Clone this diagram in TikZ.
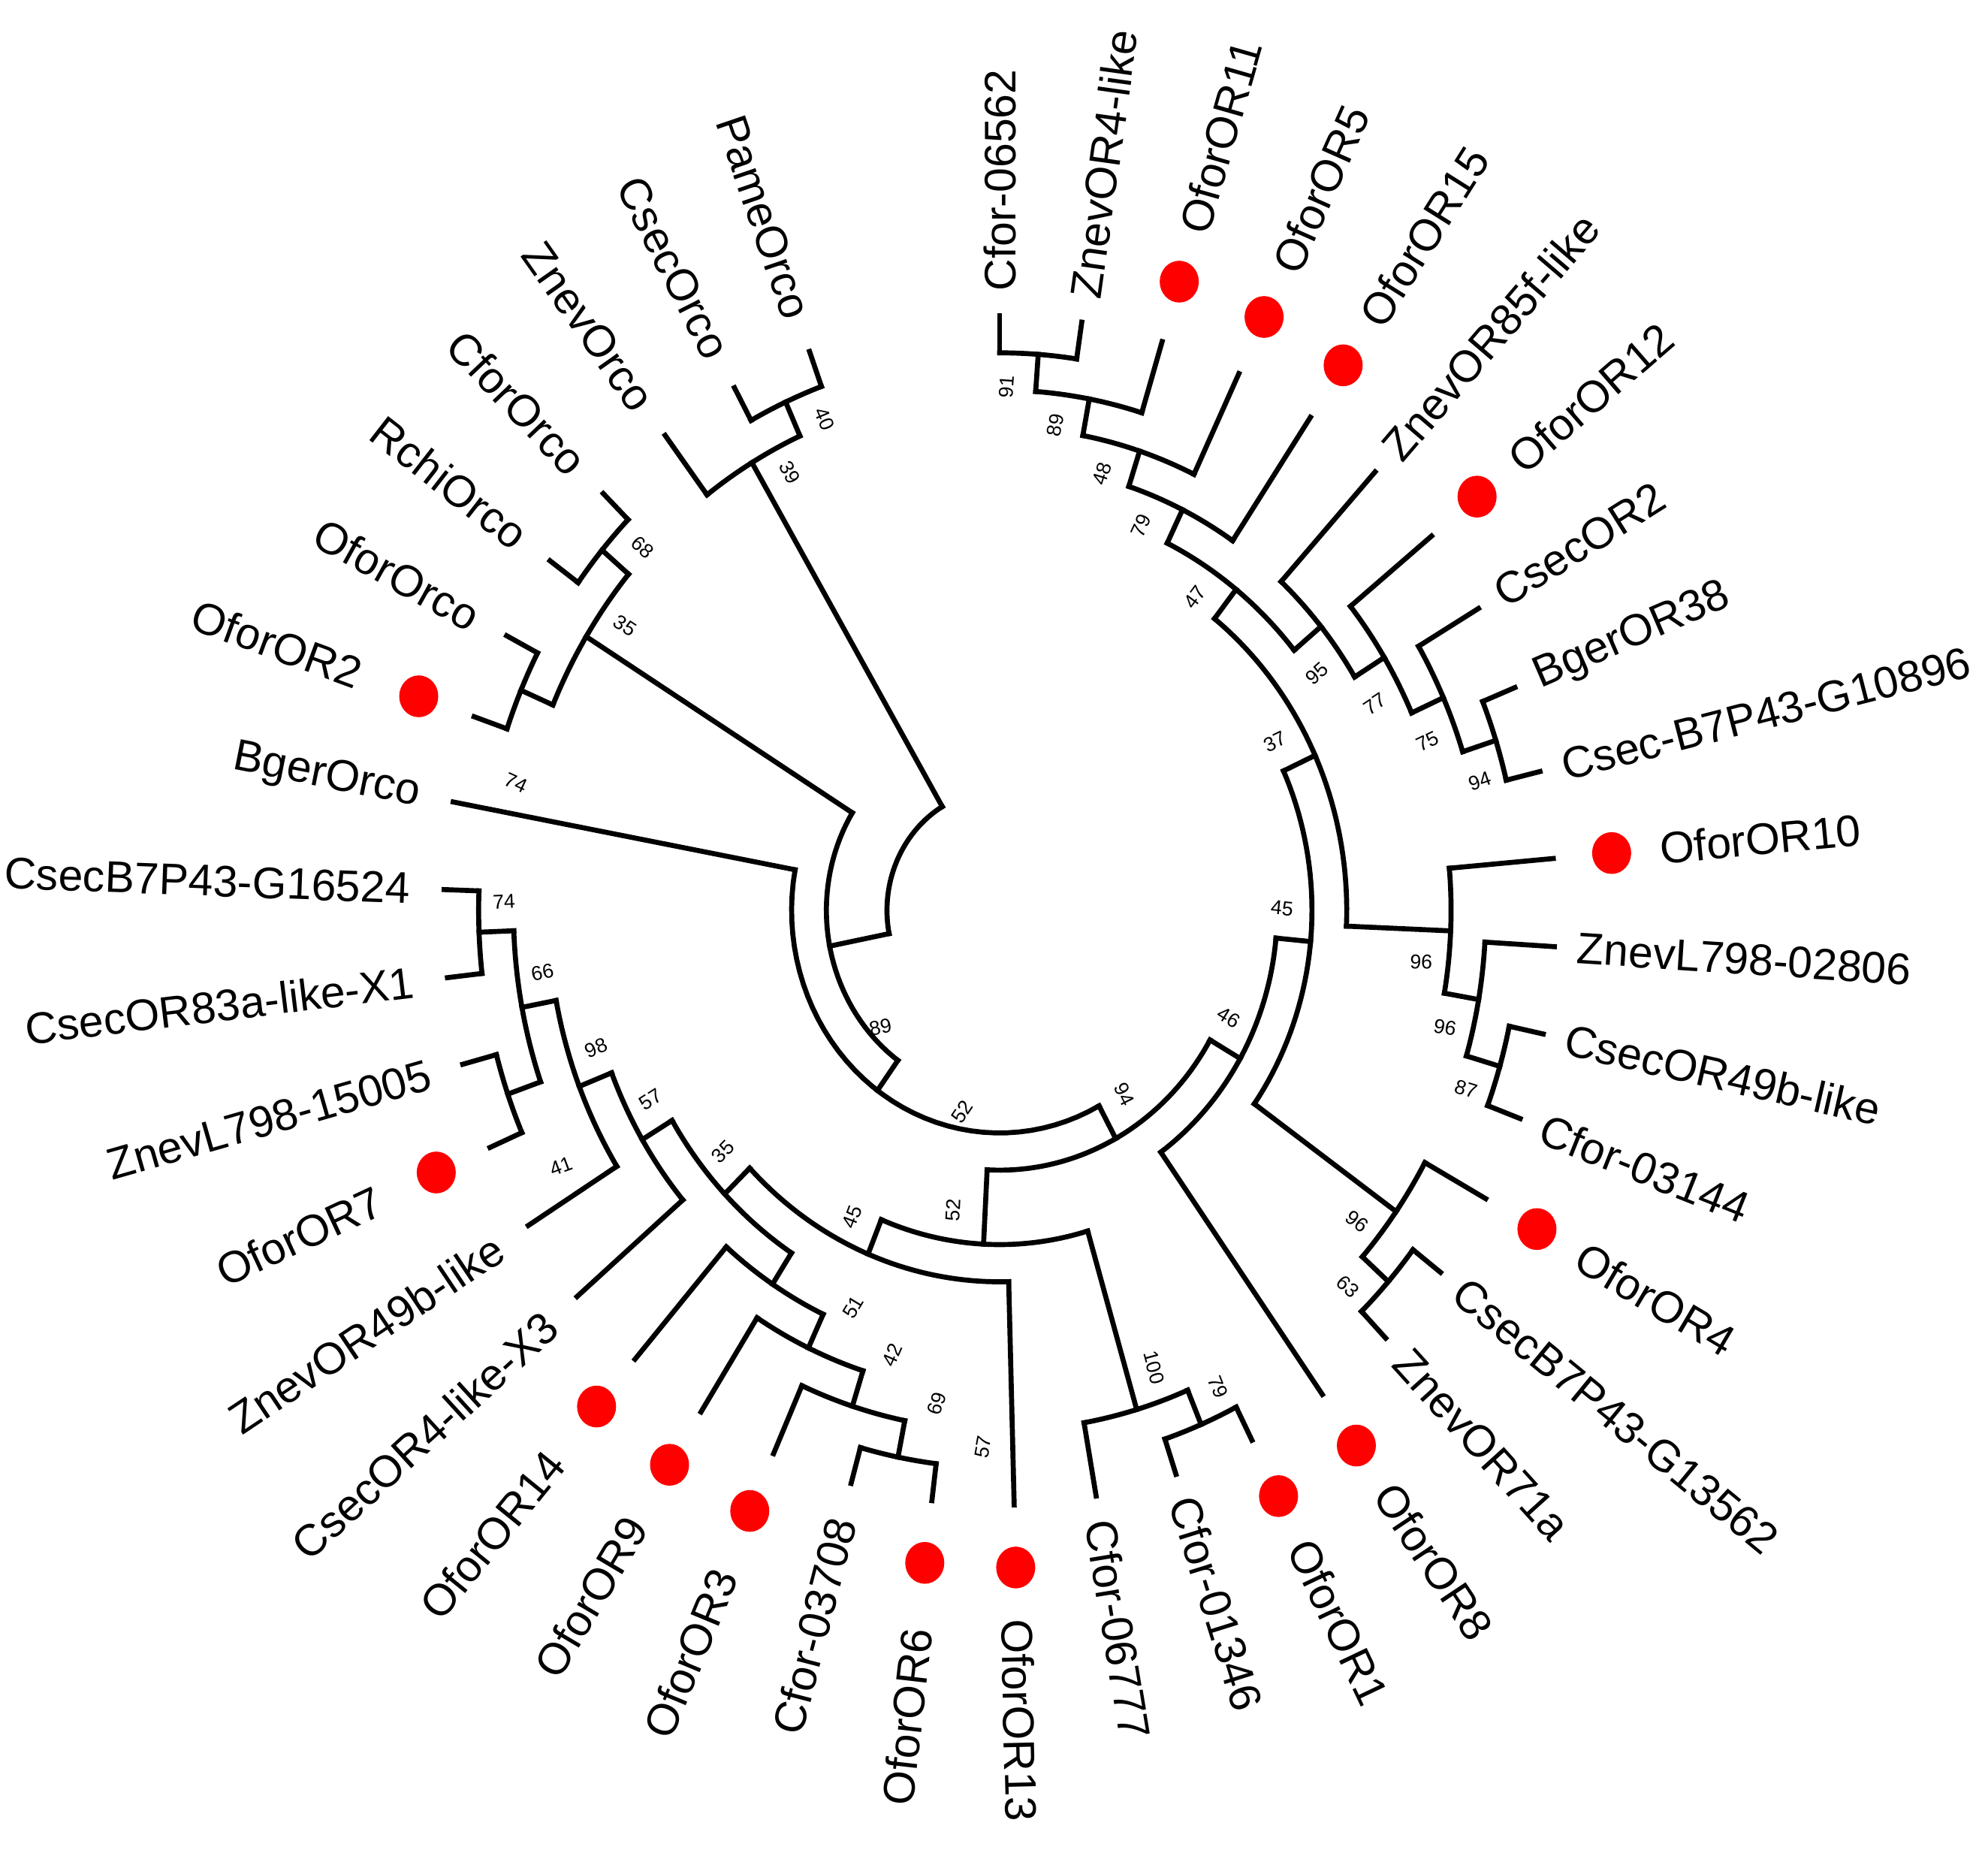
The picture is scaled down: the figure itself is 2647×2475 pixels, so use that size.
\documentclass[tikz,border=0pt]{standalone}
\usepackage{fontspec}
\setmainfont{Liberation Sans}
\newcommand{\tarc}[3]{\draw[br] plot[domain=#1:#2, samples=40] (\x:#3);}
\begin{document}
\begin{tikzpicture}[x=0.01cm,y=0.01cm,
  br/.style={line width=1.9pt, line cap=rect, black},
  leaflab/.style={inner sep=0pt, font=\fontsize{16.75}{20}\selectfont},
  bs/.style={inner sep=0pt, font=\fontsize{7.6}{9}\selectfont}]
\useasboundingbox (-1331,-1263) rectangle (1316,1212);
\begin{scope}[yscale=1.07]
% ---- arcs of internal nodes ----
\tarc{90}{81.5}{693.7}
\tarc{85.75}{73}{647.4}
\tarc{79.375}{64.5}{601.1}
\tarc{71.9375}{56}{554.8}
\tarc{22}{13.5}{693.7}
\tarc{30.5}{17.75}{647.4}
\tarc{39}{24.125}{601.1}
\tarc{47.5}{31.5625}{554.8}
\tarc{63.96875}{39.53125}{508.5}
\tarc{-12}{-20.5}{693.7}
\tarc{-3.5}{-16.25}{647.4}
\tarc{5}{-9.875}{601.1}
\tarc{51.75}{-2.4375}{462.2}
\tarc{-37.5}{-46}{693.7}
\tarc{-29}{-41.75}{647.4}
\tarc{24.65625}{-35.375}{415.9}
\tarc{-5.359}{-54.5}{369.6}
\tarc{-63}{-71.5}{693.7}
\tarc{-67.25}{-80}{647.4}
\tarc{-97}{-105.5}{693.7}
\tarc{-101.25}{-114}{647.4}
\tarc{-107.625}{-122.5}{601.1}
\tarc{-115.0625}{-131}{554.8}
\tarc{-156.5}{-165}{693.7}
\tarc{-173.5}{-182}{693.7}
\tarc{-160.75}{-177.75}{647.4}
\tarc{-148}{-169.25}{601.1}
\tarc{-139.5}{-158.625}{554.8}
\tarc{-123.03}{-149.06}{508.5}
\tarc{-88.5}{-136.05}{462.2}
\tarc{-73.625}{-112.27}{415.9}
\tarc{-29.93}{-92.95}{323.3}
\tarc{-61.44}{-190.5}{277}
\tarc{-199}{-207.5}{693.7}
\tarc{-216}{-224.5}{693.7}
\tarc{-203.25}{-220.25}{647.4}
\tarc{-125.97}{-211.75}{230.7}
\tarc{-241.5}{-250}{693.7}
\tarc{-233}{-245.75}{647.4}
\tarc{-168.86}{-239.375}{150}
% ---- stems of internal nodes ----
\foreach \a/\ra/\rb in {85.75/647.4/693.7, 79.375/601.1/647.4, 71.9375/554.8/601.1,
  63.96875/508.5/554.8, 17.75/647.4/693.7, 24.125/601.1/647.4, 31.5625/554.8/601.1,
  39.53125/508.5/554.8, 51.75/462.2/508.5, -16.25/647.4/693.7, -9.875/601.1/647.4,
  -2.4375/462.2/601.1, 24.65625/415.9/462.2, -41.75/647.4/693.7, -35.375/415.9/647.4,
  -5.359/369.6/415.9, -29.93/323.3/369.6, -67.25/647.4/693.7, -73.625/415.9/647.4,
  -101.25/647.4/693.7, -107.625/601.1/647.4, -115.0625/554.8/601.1, -123.03/508.5/554.8,
  -160.75/647.4/693.7, -177.75/647.4/693.7, -169.25/601.1/647.4, -158.625/554.8/601.1,
  -149.06/508.5/554.8, -136.05/462.2/508.5, -112.27/415.9/462.2, -92.95/323.3/415.9,
  -61.44/277/323.3, -125.97/230.7/277, -203.25/647.4/693.7, -220.25/647.4/693.7,
  -211.75/230.7/647.4, -168.86/150/230.7, -245.75/647.4/693.7, -239.375/150/647.4}
  {\draw[br] (\a:\ra) -- (\a:\rb);}
% ---- leaves: branch, dot, label ----
\foreach \i/\nm/\dt/\pr in {1/Cfor-06562/0/693.7, 2/ZnevOR4-like/0/693.7, 3/OforOR11/1/647.4,
  4/OforOR5/1/601.1, 5/OforOR15/1/554.8, 6/ZnevOR85f-like/0/554.8, 7/OforOR12/1/601.1,
  8/CsecOR2/0/647.4, 9/BgerOR38/0/693.7, 10/Csec-B7P43-G10896/0/693.7, 11/OforOR10/1/601.1,
  12/ZnevL798-02806/0/647.4, 13/CsecOR49b-like/0/693.7, 14/Cfor-03144/0/693.7,
  15/OforOR4/1/647.4, 16/CsecB7P43-G13562/0/693.7, 17/ZnevOR71a/0/693.7, 18/OforOR8/1/369.6,
  19/OforOR1/1/693.7, 20/Cfor-01346/0/693.7, 21/Cfor-06777/0/647.4, 22/OforOR13/1/462.2,
  23/OforOR6/1/693.7, 24/Cfor-03708/0/693.7, 25/OforOR3/1/647.4, 26/OforOR9/1/601.1,
  27/OforOR14/1/554.8, 28/CsecOR4-like-X3/0/554.8, 29/ZnevOR49b-like/0/601.1,
  30/OforOR7/1/693.7, 31/ZnevL798-15005/0/693.7, 32/CsecOR83a-like-X1/0/693.7,
  33/CsecB7P43-G16524/0/693.7, 34/BgerOrco/0/277, 35/OforOR2/1/693.7, 36/OforOrco/0/693.7,
  37/RchiOrco/0/693.7, 38/CforOrco/0/693.7, 39/ZnevOrco/0/647.4, 40/CsecOrco/0/693.7,
  41/PameOrco/0/693.7}
{
  \pgfmathsetmacro{\ang}{90-8.5*(\i-1)}
  \pgfmathsetmacro{\lrot}{atan2(1.07*sin(\ang),cos(\ang))}
  \pgfmathsetmacro{\lcos}{cos(\ang)}
  \draw[br] (\ang:\pr) -- (\ang:740);
  \ifnum\dt=1 \fill[red] (\ang:818) circle[radius=26]; \fi
  \ifdim\lcos pt>-0.01pt
    \pgfmathsetmacro{\lrad}{\dt==1 ? 882 : 770}
    \node[leaflab, rotate=\lrot, anchor=west] (leaf\i) at (\ang:\lrad) {\nm};
  \else
    \pgfmathsetmacro{\lrad}{\dt==1 ? 900 : 785}
    \node[leaflab, rotate=\lrot+180, anchor=east] (leaf\i) at (\ang:\lrad) {\nm};
  \fi
}
\end{scope}
% ---- bootstrap values ----
\foreach \k/\px/\py/\rt/\tx in {1/9/697/86.0/91, 2/74/646/80.0/89, 3/136.5/581/73.0/48,
  4/188/512/65.5/79, 5/260.3/417/53.6/47, 6/422.8/315.2/41.5/95, 7/499.4/274.7/33.3/77,
  8/570/224.7/25.6/75, 9/639.5/172/18.9/94, 10/366.5/224.7/26.2/37, 11/376/3/-5.7/45,
  12/561.4/-68.5/-2.6/96, 13/593/-155.8/-10.6/96, 14/620.8/-238.2/-17.3/87,
  15/305/-142.8/-31.6/46, 16/166/-245/-63.0/94, 17/476.4/-414/-37.2/96,
  18/463.5/-501/-43.7/63, 19/205.8/-608.5/-74.7/100, 20/290.9/-634.5/-68.6/79,
  21/-233.4/654.2/-67.2/40, 22/-279.3/582.8/-61.0/39, 23/-475.7/483.3/-42.2/68,
  24/-498.7/378.7/-33.5/35, 25/-644.1/169.6/-24.7/74, 26/-660/11.2/2.4/74,
  27/-608.8/-82.2/11.5/66, 28/-583.8/-341/20.5/41, 29/-537.5/-183/22.7/98,
  30/-464.5/-252/32.7/57, 31/-368.5/-321/45.9/35, 32/-196.2/-408.3/69.1/45,
  33/-61.5/-398.8/87.2/52, 34/-195/-528.3/58.7/51, 35/-142.6/-592/66.4/42,
  36/-83.6/-657/73.5/69, 37/-22/-714.6/79.5/57, 38/-158.8/-155.8/11.9/89,
  39/-50/-268/55.9/52}
  {\node[bs, rotate=\rt] (bs\k) at (\px,\py) {\tx};}
\end{tikzpicture}
\end{document}
